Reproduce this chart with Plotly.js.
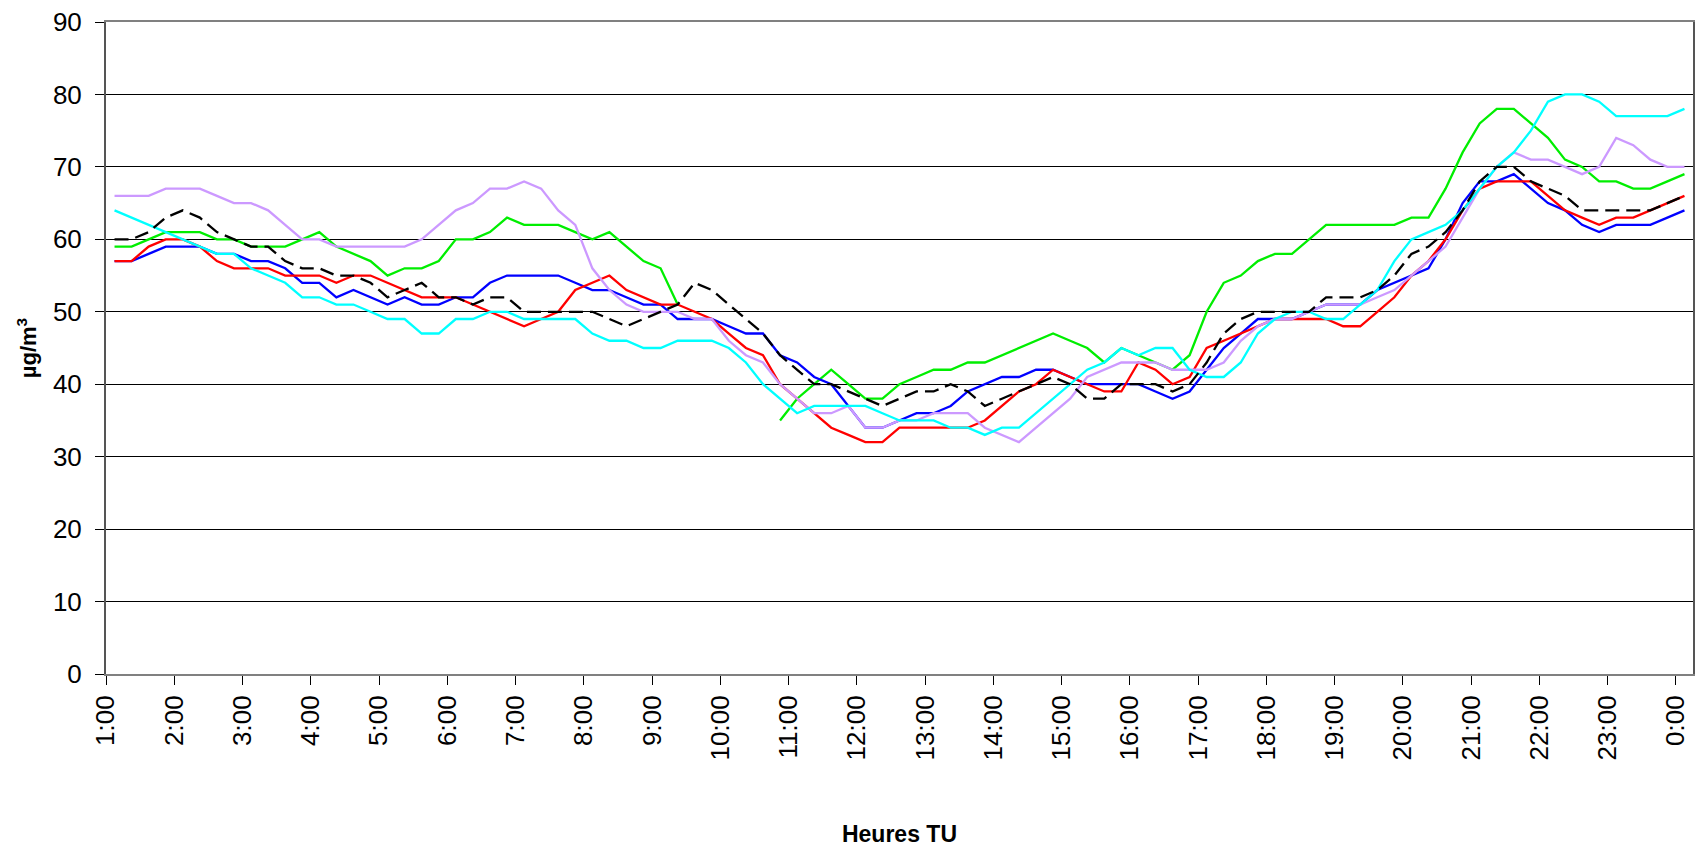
<!DOCTYPE html>
<html>
<head>
<meta charset="utf-8">
<script src="https://cdn.plot.ly/plotly-3.0.1.min.js"></script>
<style>
  html, body { margin: 0; padding: 0; background: #fff; }
  #chart { width: 1696px; height: 848px; }
</style>
</head>
<body>
<div id="chart"></div>
<script>
// Hour labels on the category axis (one every 4 quarter-hours)
const hourLabels = ["1:00","2:00","3:00","4:00","5:00","6:00","7:00","8:00","9:00","10:00","11:00","12:00",
  "13:00","14:00","15:00","16:00","17:00","18:00","19:00","20:00","21:00","22:00","23:00","0:00"];

// Quarter-hour values (µg/m³), 93 points each
const seriesGreen = [59,59,60,61,61,61,60,60,59,59,59,60,61,59,58,57,
  55,56,56,57,60,60,61,63,62,62,62,61,60,61,59,57,
  56,51,null,null,null,null,null,35,38,40,42,40,38,38,40,41,
  42,42,43,43,44,45,46,47,46,45,43,45,44,43,42,44,
  50,54,55,57,58,58,60,62,62,62,62,62,63,63,67,72,
  76,78,78,76,74,71,70,68,68,67,67,68,69];

const seriesBlue = [57,57,58,59,59,59,58,58,57,57,56,54,54,52,53,52,
  51,52,51,51,52,52,54,55,55,55,55,54,53,53,52,51,
  51,49,49,49,48,47,47,44,43,41,40,37,34,34,35,36,
  36,37,39,40,41,41,42,42,41,40,40,40,40,39,38,39,
  42,45,47,49,49,49,50,51,51,51,53,54,55,56,60,65,
  68,68,69,67,65,64,62,61,62,62,62,63,64];

const seriesRed = [57,57,59,60,60,59,57,56,56,56,55,55,55,54,55,55,
  54,53,52,52,52,51,50,49,48,49,50,53,54,55,53,52,
  51,51,50,49,47,45,44,40,38,36,34,33,32,32,34,34,
  34,34,34,35,37,39,40,42,41,40,39,39,43,42,40,41,
  45,46,47,48,49,49,49,49,48,48,50,52,55,57,60,64,
  67,68,68,68,66,64,63,62,63,63,64,65,66];

const seriesPurple = [66,66,66,67,67,67,66,65,65,64,62,60,60,59,59,59,
  59,59,60,62,64,65,67,67,68,67,64,62,56,53,51,50,
  50,50,49,49,46,44,43,40,38,36,36,37,34,34,35,35,
  36,36,36,34,33,32,34,36,38,41,42,43,43,43,42,42,
  42,43,46,48,49,49,50,51,51,51,52,53,55,57,59,63,
  67,70,72,71,71,70,69,70,74,73,71,70,70];

const seriesCyan = [64,63,62,61,60,59,58,58,56,55,54,52,52,51,51,50,
  49,49,47,47,49,49,50,50,49,49,49,49,47,46,46,45,
  45,46,46,46,45,43,40,38,36,37,37,37,37,36,35,35,
  35,34,34,33,34,34,36,38,40,42,43,45,44,45,45,42,
  41,41,43,47,49,50,50,49,49,51,53,57,60,61,62,64,
  67,70,72,75,79,80,80,79,77,77,77,77,78];

const seriesBlack = [60,60,61,63,64,63,61,60,59,59,57,56,56,55,55,54,
  52,53,54,52,52,51,52,52,50,50,50,50,50,49,48,49,
  50,51,54,53,51,49,47,44,42,40,40,39,38,37,38,39,
  39,40,39,37,38,39,40,41,40,38,38,40,40,40,39,40,
  43,47,49,50,50,50,50,52,52,52,53,55,58,59,61,64,
  68,70,70,68,67,66,64,64,64,64,64,65,66];

const idx = seriesRed.map((_, i) => i);

function tr(y, color, dash) {
  return {
    x: idx, y: y, type: 'scatter', mode: 'lines',
    line: {color: color, width: 2.3, dash: dash || 'solid', shape: 'linear'},
    connectgaps: false, hoverinfo: 'skip'
  };
}

const data = [
  tr(seriesGreen, '#00EE00'),
  tr(seriesBlue, '#0000FF'),
  tr(seriesRed, '#FF0000'),
  tr(seriesPurple, '#CC99FF'),
  tr(seriesCyan, '#00FFFF'),
  tr(seriesBlack, '#000000', '14px,7px')
];

const font = "'Liberation Sans', Arial, sans-serif";

const layout = {
  width: 1696, height: 848,
  margin: {l: 106, r: 3, t: 22, b: 174, pad: 0},
  paper_bgcolor: '#ffffff', plot_bgcolor: '#ffffff',
  showlegend: false,
  font: {family: font, color: '#000', size: 26},
  xaxis: {
    range: [-0.5, 92.5],
    tickmode: 'array',
    tickvals: hourLabels.map((_, k) => k * 4 - 0.5),
    ticktext: hourLabels,
    tickangle: -90,
    ticks: 'outside', ticklen: 9, tickwidth: 1, tickcolor: '#000',
    tickfont: {family: font, size: 26, color: '#000'},
    showgrid: false, zeroline: false,
    showline: true, linecolor: '#808080', linewidth: 2, mirror: true,
    title: {text: '<b>Heures TU</b>', font: {family: font, size: 23, color: '#000'}, standoff: 66},
    automargin: false
  },
  yaxis: {
    range: [0, 90], dtick: 10, tick0: 0,
    ticks: 'outside', ticklen: 9, tickwidth: 1, tickcolor: '#000',
    tickfont: {family: font, size: 26, color: '#000'},
    ticklabelstandoff: 8,
    showgrid: true, gridcolor: '#000000', gridwidth: 1,
    zeroline: false,
    showline: true, linecolor: '#555555', linewidth: 2, mirror: true,
    title: {text: '<b>µg/m<sup>3</sup></b>', font: {family: font, size: 22, color: '#000'}, standoff: 10},
    automargin: false
  }
};

Plotly.newPlot('chart', data, layout, {staticPlot: true, displayModeBar: false});
</script>
</body>
</html>
